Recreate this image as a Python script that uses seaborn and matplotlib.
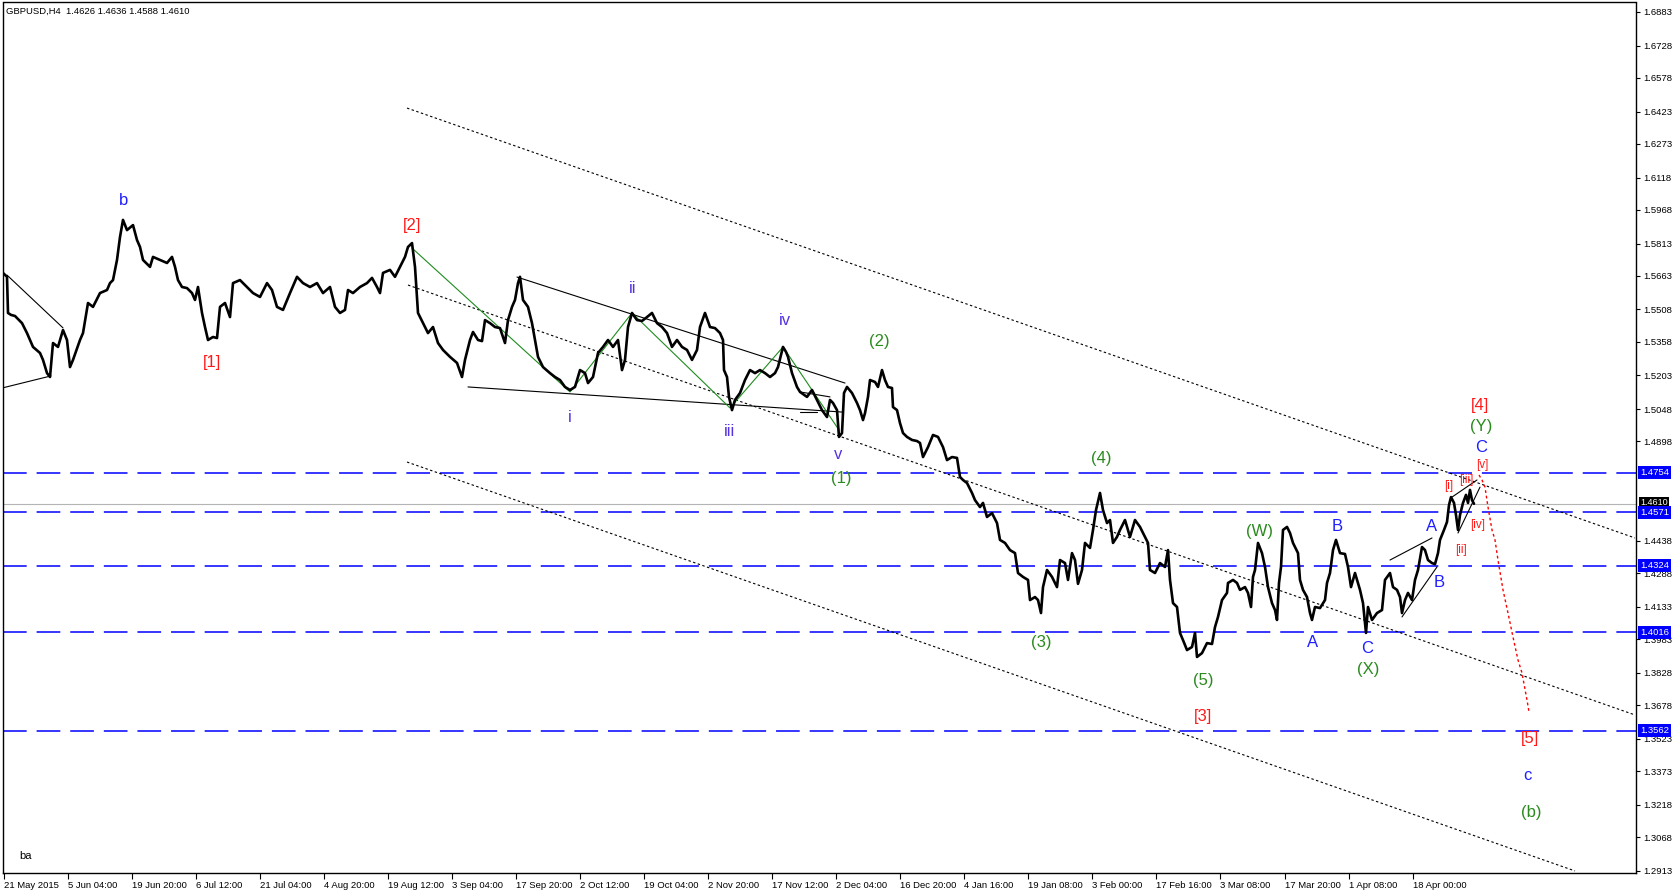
import numpy as np
import pandas as pd
import matplotlib
matplotlib.use("Agg")
import matplotlib.pyplot as plt
import seaborn as sns
from matplotlib.transforms import blended_transform_factory

# ---------------- data ----------------
symbol_header = "GBPUSD,H4  1.4626 1.4636 1.4588 1.4610"

# bar index (H4 bars from 21 May 2015) and closing price
bars_a = [3, 7, 8, 11, 15, 22, 27, 30, 33, 40, 43, 47, 50, 53, 58, 63, 67, 70, 73, 80,
          83, 88, 93, 100, 107, 110, 113, 117, 120, 123, 127, 133, 137, 140, 143, 150, 153, 160, 167, 172,
          175, 178, 182, 187, 192, 195, 198, 202, 205, 208, 213, 217, 220, 225, 230, 233, 240, 247, 253, 260,
          267, 272, 277, 283, 290, 297, 303, 310, 317, 323, 330, 335, 340, 345, 348, 353, 360, 367, 372, 377,
          380, 383, 390, 395, 400, 405, 408, 412, 415, 418, 423, 428, 433, 438, 443]
close_a = [1.5677, 1.5659, 1.5492, 1.5483, 1.5478, 1.5445, 1.5399, 1.5367, 1.5335, 1.5307,
           1.5275, 1.5214, 1.5196, 1.5353, 1.5335, 1.5413, 1.5367, 1.5242, 1.5275, 1.5367,
           1.5399, 1.5538, 1.5520, 1.5584, 1.5598, 1.5630, 1.5644, 1.5737, 1.5843, 1.5922,
           1.5875, 1.5898, 1.5829, 1.5797, 1.5737, 1.5705, 1.5751, 1.5737, 1.5723, 1.5751,
           1.5705, 1.5644, 1.5612, 1.5607, 1.5584, 1.5552, 1.5612, 1.5492, 1.5427, 1.5367,
           1.5381, 1.5376, 1.5520, 1.5538, 1.5473, 1.5630, 1.5644, 1.5612, 1.5584, 1.5566,
           1.5630, 1.5598, 1.5520, 1.5506, 1.5584, 1.5659, 1.5630, 1.5612, 1.5630, 1.5584,
           1.5612, 1.5520, 1.5492, 1.5506, 1.5598, 1.5584, 1.5612, 1.5630, 1.5654, 1.5612,
           1.5584, 1.5677, 1.5691, 1.5659, 1.5705, 1.5751, 1.5797, 1.5815, 1.5705, 1.5492,
           1.5445, 1.5399, 1.5427, 1.5353, 1.5321]

bars_b = [450, 457, 462, 465, 470, 473, 478, 482, 485, 490, 495, 500, 505, 508, 512,
          515, 518, 520, 523, 528, 532, 535, 538, 543, 550, 555, 560, 565, 570, 575,
          580, 585, 588, 593, 598, 603, 608, 613, 618, 622, 625, 628, 632, 637, 642,
          647, 652, 657, 662, 667, 672, 677, 682, 687, 692, 697]
close_b = [1.5289, 1.5261, 1.5196, 1.5275, 1.5367, 1.5404, 1.5367, 1.5362, 1.5459, 1.5445,
           1.5427, 1.5422, 1.5353, 1.5459, 1.5520, 1.5552, 1.5630, 1.5659, 1.5552, 1.5520,
           1.5445, 1.5367, 1.5289, 1.5242, 1.5214, 1.5196, 1.5182, 1.5150, 1.5136, 1.5150,
           1.5228, 1.5214, 1.5168, 1.5196, 1.5307, 1.5335, 1.5367, 1.5335, 1.5367, 1.5228,
           1.5275, 1.5427, 1.5492, 1.5459, 1.5455, 1.5473, 1.5492, 1.5445, 1.5427, 1.5399,
           1.5335, 1.5367, 1.5335, 1.5321, 1.5275, 1.5321]

bars_c = [700, 705, 710, 715, 720, 723, 724, 727, 729, 732, 735, 740, 745, 750, 755,
          760, 765, 770, 775, 778, 783, 786, 788, 792, 797, 800, 807, 812, 817, 822,
          827, 830, 833, 837, 839, 842, 844, 847, 852, 857, 860, 863, 865, 868, 870,
          875, 878, 882, 885, 888, 892, 893, 897, 900, 903, 907, 912, 917, 920, 923,
          928, 933, 938, 943, 947, 952, 957, 960, 963, 967, 972, 975, 980, 983, 987,
          992, 997, 1000, 1005, 1010, 1015, 1018, 1023, 1028, 1030, 1035, 1038, 1041, 1043, 1047,
          1052, 1057, 1060, 1065, 1068, 1072, 1075, 1078, 1082, 1085, 1090, 1093, 1096, 1100]
close_c = [1.5427, 1.5492, 1.5427, 1.5422, 1.5399, 1.5367, 1.5228, 1.5196, 1.5104, 1.5043,
           1.5090, 1.5122, 1.5182, 1.5228, 1.5214, 1.5228, 1.5214, 1.5196, 1.5214, 1.5242,
           1.5335, 1.5312, 1.5289, 1.5214, 1.5150, 1.5127, 1.5104, 1.5136, 1.5090, 1.5043,
           1.5011, 1.5090, 1.5076, 1.5043, 1.4919, 1.4937, 1.5122, 1.5150, 1.5122, 1.5076,
           1.5043, 1.4997, 1.5029, 1.5104, 1.5182, 1.5173, 1.5150, 1.5228, 1.5182, 1.5150,
           1.5145, 1.5057, 1.5043, 1.4983, 1.4937, 1.4919, 1.4905, 1.4900, 1.4891, 1.4826,
           1.4872, 1.4928, 1.4919, 1.4872, 1.4812, 1.4826, 1.4822, 1.4734, 1.4720, 1.4706,
           1.4660, 1.4627, 1.4595, 1.4614, 1.4549, 1.4567, 1.4521, 1.4443, 1.4429, 1.4396,
           1.4382, 1.4290, 1.4272, 1.4258, 1.4165, 1.4179, 1.4165, 1.4105, 1.4225, 1.4304,
           1.4272, 1.4225, 1.4350, 1.4336, 1.4258, 1.4382, 1.4350, 1.4240, 1.4304, 1.4429,
           1.4406, 1.4489, 1.4581, 1.4660]

bars_d = [1103, 1107, 1110, 1113, 1117, 1120, 1125, 1130, 1135, 1140, 1145, 1148, 1150, 1155, 1160,
          1165, 1168, 1170, 1173, 1177, 1180, 1183, 1187, 1192, 1195, 1197, 1202, 1207, 1212, 1215,
          1218, 1222, 1227, 1228, 1233, 1237, 1240, 1245, 1248, 1251, 1253, 1255, 1258, 1262, 1265,
          1268, 1272, 1275, 1277, 1279, 1281, 1283, 1287, 1290, 1293, 1298, 1300, 1303, 1307, 1310,
          1312, 1315, 1320, 1325, 1327, 1330, 1333, 1336, 1340, 1345, 1348, 1351, 1355, 1360, 1363,
          1366, 1368, 1372, 1377, 1382, 1385, 1390, 1393, 1397, 1400, 1402, 1405, 1408, 1412, 1415,
          1418, 1422, 1425, 1428, 1432, 1435, 1438, 1440, 1444, 1447, 1449, 1451, 1454, 1456, 1458,
          1460, 1463, 1466, 1468, 1470, 1472, 1474]
close_d = [1.4581, 1.4521, 1.4535, 1.4429, 1.4457, 1.4489, 1.4535, 1.4457, 1.4535, 1.4503,
           1.4457, 1.4429, 1.4304, 1.4290, 1.4336, 1.4318, 1.4396, 1.4258, 1.4151, 1.4133,
           1.4013, 1.3980, 1.3934, 1.3948, 1.4013, 1.3902, 1.3920, 1.3966, 1.3962, 1.4040,
           1.4087, 1.4165, 1.4198, 1.4244, 1.4258, 1.4244, 1.4212, 1.4225, 1.4198, 1.4133,
           1.4272, 1.4304, 1.4429, 1.4382, 1.4318, 1.4225, 1.4151, 1.4119, 1.4073, 1.4244,
           1.4318, 1.4489, 1.4503, 1.4475, 1.4429, 1.4382, 1.4258, 1.4212, 1.4179, 1.4105,
           1.4073, 1.4133, 1.4128, 1.4165, 1.4244, 1.4290, 1.4396, 1.4443, 1.4382, 1.4378,
           1.4318, 1.4225, 1.4290, 1.4212, 1.4151, 1.4013, 1.4133, 1.4073, 1.4105, 1.4119,
           1.4258, 1.4290, 1.4225, 1.4212, 1.4179, 1.4105, 1.4165, 1.4198, 1.4165, 1.4258,
           1.4304, 1.4410, 1.4396, 1.4350, 1.4336, 1.4331, 1.4382, 1.4443, 1.4489, 1.4526,
           1.4604, 1.4641, 1.4614, 1.4558, 1.4489, 1.4558, 1.4614, 1.4651, 1.4614, 1.4674,
           1.4627, 1.4610]

# horizontal levels
blue_levels = [1.4754, 1.4571, 1.4324, 1.4016, 1.3562]
last_price = 1.4610

# price axis tick labels (right side; the two hidden under the level tags are left out)
price_ticks = [1.6883, 1.6728, 1.6578, 1.6423, 1.6273, 1.6118, 1.5968, 1.5813, 1.5663,
               1.5508, 1.5358, 1.5203, 1.5048, 1.4898, 1.4438, 1.4288,
               1.4133, 1.3983, 1.3828, 1.3678, 1.3523, 1.3373, 1.3218, 1.3068, 1.2913]

# time axis labels, one every 64 bars
time_labels = ["21 May 2015", "5 Jun 04:00", "19 Jun 20:00", "6 Jul 12:00", "21 Jul 04:00",
               "4 Aug 20:00", "19 Aug 12:00", "3 Sep 04:00", "17 Sep 20:00", "2 Oct 12:00",
               "19 Oct 04:00", "2 Nov 20:00", "17 Nov 12:00", "2 Dec 04:00", "16 Dec 20:00",
               "4 Jan 16:00", "19 Jan 08:00", "3 Feb 00:00", "17 Feb 16:00", "3 Mar 08:00",
               "17 Mar 20:00", "1 Apr 08:00", "18 Apr 00:00"]

# trend / channel lines: (bar0, price0, bar1, price1)
channel_lines = [(407, 1.6439, 1635, 1.4452),
                 (408, 1.5621, 1635, 1.3634),
                 (407, 1.4803, 1575, 1.2913)]
black_lines = [(7, 1.5667, 63, 1.5423),
               (2, 1.5145, 51, 1.5201),
               (517, 1.5658, 845, 1.5168),
               (468, 1.5150, 842, 1.5034),
               (800, 1.5127, 830, 1.5104),
               (800, 1.5034, 817, 1.5034),
               (1390, 1.4350, 1432, 1.4452),
               (1402, 1.4087, 1437, 1.4318),
               (1452, 1.4641, 1477, 1.4720),
               (1458, 1.4475, 1480, 1.4687)]
green_wave_bars = [412, 570, 632, 730, 783, 839]
green_wave_price = [1.5792, 1.5127, 1.5492, 1.5053, 1.5335, 1.4951]
proj_bars = [1479, 1482, 1485, 1488, 1492, 1495, 1498, 1503, 1508, 1513, 1518, 1522, 1527, 1529]
proj_price = [1.4743, 1.4720, 1.4687, 1.4595, 1.4489, 1.4443, 1.4350, 1.4212, 1.4105,
              1.3994, 1.3888, 1.3828, 1.3703, 1.3648]

# wave labels: (text, bar, price, colour key, size key)
wave_labels = [
    ("b", 124, 1.6014, "blue", "big"), ("[1]", 212, 1.5261, "red", "big"),
    ("[2]", 412, 1.5894, "red", "big"), ("ii", 633, 1.5603, "violet", "big"),
    ("i", 570, 1.5011, "violet", "big"), ("iii", 729, 1.4942, "violet", "big"),
    ("iv", 785, 1.5459, "violet", "big"), ("v", 838, 1.4836, "violet", "big"),
    ("(1)", 841, 1.4729, "green", "big"), ("(2)", 879, 1.5358, "green", "big"),
    ("(3)", 1041, 1.3967, "green", "big"), ("(4)", 1101, 1.4817, "green", "big"),
    ("(5)", 1203, 1.3791, "green", "big"), ("[3]", 1203, 1.3629, "red", "big"),
    ("(W)", 1259, 1.4484, "green", "big"), ("B", 1337, 1.4507, "blue", "big"),
    ("A", 1313, 1.3967, "blue", "big"), ("C", 1367, 1.3939, "blue", "big"),
    ("(X)", 1368, 1.3846, "green", "big"), ("A", 1432, 1.4507, "blue", "big"),
    ("B", 1439, 1.4248, "blue", "big"), ("[i]", 1449, 1.4692, "red", "small"),
    ("[ii]", 1461, 1.4396, "red", "small"), ("[iii]", 1466, 1.4720, "red", "small"),
    ("[iv]", 1478, 1.4512, "red", "small"), ("[v]", 1482, 1.4789, "red", "small"),
    ("C", 1481, 1.4868, "blue", "big"), ("(Y)", 1481, 1.4965, "green", "big"),
    ("[4]", 1480, 1.5062, "red", "big"), ("[5]", 1530, 1.3523, "red", "big"),
    ("c", 1527, 1.3356, "blue", "big"), ("(b)", 1531, 1.3185, "green", "big"),
]

# ---------------- styling ----------------
sns.set_style("white")
plt.rcParams['font.family'] = ['Liberation Sans', 'DejaVu Sans']

colours = {"blue": "#1f1fff", "red": "#ff1a1a", "green": "#2a8a1e", "violet": "#5533e0"}
sizes = {"big": 12, "small": 8.5}

W, H = 1676, 894
fig = plt.figure(figsize=(W / 100, H / 100), dpi=100)
fig.patch.set_facecolor("white")
ax_l, ax_r, ax_t, ax_b = 2.5, 1636, 2.5, 873
ax = fig.add_axes([ax_l / W, 1 - ax_b / H, (ax_r - ax_l) / W, (ax_b - ax_t) / H])
ax.set_facecolor("white")

bars = bars_a + bars_b + bars_c + bars_d
close = close_a + close_b + close_c + close_d
assert len(bars) == len(close)
df = pd.DataFrame({"bar": bars, "close": close})

ax.set_xlim(ax_l, ax_r)
ax.set_ylim(1.29035, 1.69269)

# horizontal levels
ax.axhline(last_price, color="#b4b4b4", lw=0.8, zorder=1)
for lv in blue_levels:
    ax.axhline(lv, color="#0000ff", lw=1.1, ls=(0, (15.5, 6.5)), zorder=1)

# channels
for x0, y0, x1, y1 in channel_lines:
    ax.plot([x0, x1], [y0, y1], color="black", lw=0.8, ls=(0, (2.2, 2.2)), zorder=2)
for x0, y0, x1, y1 in black_lines:
    ax.plot([x0, x1], [y0, y1], color="black", lw=0.8, zorder=2)
ax.plot(green_wave_bars, green_wave_price, color="#1e8c1e", lw=0.8, zorder=2)
ax.plot(proj_bars, proj_price, color="#ff0000", lw=1.0, ls=(0, (2, 2)), zorder=2)

# price series
sns.lineplot(data=df, x="bar", y="close", ax=ax, color="black", lw=1.9,
             estimator=None, sort=False, zorder=3)

for txt, bx, py, c, s in wave_labels:
    ax.text(bx, py, txt, color=colours[c], fontsize=sizes[s], ha="center", va="center", zorder=4)

# axes cosmetics
for sp in ax.spines.values():
    sp.set_color("black")
    sp.set_linewidth(1.0)
    sp.set_visible(True)
ax.set_xlabel("")
ax.set_ylabel("")

ax.yaxis.tick_right()
ax.set_yticks(price_ticks)
ax.set_yticklabels([f"{v:.4f}" for v in price_ticks])
ax.tick_params(axis="y", which="both", right=True, left=False, labelright=True, labelleft=False,
               length=3, width=0.8, labelsize=6.8, pad=2, colors="black")

xt = [3.5 + 64.05 * k for k in range(len(time_labels))]
ax.set_xticks(xt)
ax.set_xticklabels(time_labels)
ax.tick_params(axis="x", which="both", bottom=True, length=4, width=0.8, labelsize=6.8, pad=1.5,
               colors="black")
for lbl in ax.get_xticklabels():
    lbl.set_ha("left")

# price tags on the right
trans = blended_transform_factory(ax.transAxes, ax.transData)
xoff = 1.0 + 4.0 / (ax_r - ax_l)
ax.text(xoff, last_price + 0.0006, f"{last_price:.4f}", transform=trans, ha="left", va="center",
        fontsize=6.5, color="white", clip_on=False, zorder=5,
        bbox=dict(boxstyle="square,pad=0.15", fc="black", ec="none"))
for lv in blue_levels:
    ax.text(xoff, lv, f"{lv:.4f}", transform=trans, ha="left", va="center",
            fontsize=6.8, color="white", clip_on=False, zorder=6,
            bbox=dict(boxstyle="square,pad=0.2", fc="#0000ff", ec="none"))

fig.text(6 / W, 1 - 11 / H, symbol_header, fontsize=6.8, color="black", ha="left", va="center")
fig.text(19 / W, 1 - 856 / H, "ba", fontsize=8, color="black", ha="left", va="center")

fig.savefig("out.png", dpi=100, facecolor="white")
